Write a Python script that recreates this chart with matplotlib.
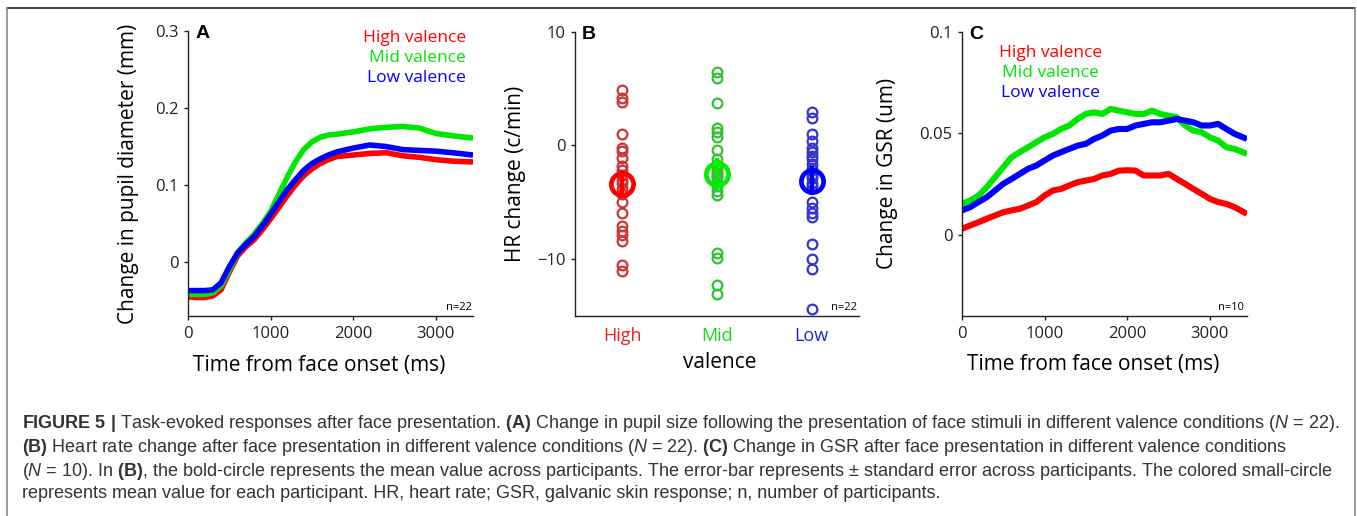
import numpy as np
import matplotlib
matplotlib.use("Agg")
import matplotlib.pyplot as plt
from matplotlib import font_manager
from matplotlib.lines import Line2D

installed = {f.name for f in font_manager.fontManager.ttflist}
CAP_FONT = "Liberation Sans Narrow" if "Liberation Sans Narrow" in installed else "Liberation Sans"
PLOT_FONT = "Open Sans"

plt.rcParams.update({
    "font.family": [PLOT_FONT, "DejaVu Sans"],
    "axes.unicode_minus": True,
    "mathtext.fontset": "custom",
    "mathtext.rm": CAP_FONT,
    "mathtext.it": CAP_FONT + ":italic",
    "mathtext.bf": CAP_FONT + ":bold",
    "axes.spines.top": False,
    "axes.spines.right": False,
    "axes.linewidth": 1.0,
    "axes.edgecolor": "#222222",
    "xtick.major.size": 3,
    "ytick.major.size": 3,
    "xtick.labelsize": 12,
    "ytick.labelsize": 12,
})

RED, GREEN, BLUE = "#ff0000", "#00e600", "#0000ff"
LEGEND_LABELS = ["High valence", "Mid valence", "Low valence"]

# ---- panel A: pupil diameter (mm) ----
t_pupil = [0, 100, 200, 300, 400, 500, 600, 700, 800, 900, 1000, 1100, 1200, 1300,
           1400, 1500, 1600, 1700, 1800, 2000, 2200, 2400, 2600, 2800, 3000, 3200, 3450]
pupil_high = [-0.045, -0.046, -0.046, -0.044, -0.036, -0.013, 0.008, 0.020, 0.029, 0.042,
              0.056, 0.071, 0.086, 0.100, 0.112, 0.121, 0.128, 0.133, 0.137, 0.139, 0.141,
              0.142, 0.138, 0.136, 0.133, 0.131, 0.130]
pupil_mid = [-0.042, -0.042, -0.042, -0.040, -0.031, -0.010, 0.012, 0.025, 0.036, 0.050,
             0.066, 0.088, 0.110, 0.130, 0.146, 0.156, 0.162, 0.165, 0.166, 0.169, 0.173,
             0.175, 0.176, 0.174, 0.167, 0.164, 0.161]
pupil_low = [-0.037, -0.037, -0.037, -0.036, -0.027, -0.006, 0.012, 0.023, 0.033, 0.047,
             0.062, 0.078, 0.094, 0.107, 0.119, 0.128, 0.134, 0.139, 0.143, 0.148, 0.152,
             0.150, 0.146, 0.145, 0.144, 0.142, 0.139]

# ---- panel B: HR change per participant (c/min) ----
hr_categories = ["High", "Mid", "Low"]
hr_high = [4.9, 4.2, 3.8, 1.0, -0.2, -0.5, -1.1, -1.8, -2.2, -2.6, -3.0, -3.3, -3.8, -4.3,
           -5.0, -5.9, -7.1, -7.5, -7.9, -8.4, -10.5, -11.0]
hr_mid = [6.5, 5.9, 3.7, 1.5, 1.2, 0.7, -0.4, -1.2, -1.7, -2.0, -2.2, -2.4, -2.6, -2.9,
          -3.2, -3.6, -4.0, -4.4, -9.5, -9.9, -12.3, -13.1]
hr_low = [2.9, 2.4, 1.0, 0.4, -0.2, -0.6, -0.9, -1.2, -1.6, -2.1, -2.6, -2.9, -3.3, -3.6,
          -5.0, -5.5, -5.9, -6.3, -8.7, -10.0, -10.9, -14.4]
hr_mean = [-3.4, -2.5, -3.1]
hr_sem = [1.2, 1.4, 1.25]

# ---- panel C: GSR (um) ----
t_gsr = [0, 100, 200, 300, 400, 500, 600, 700, 800, 900, 1000, 1100, 1200, 1300, 1400,
         1500, 1600, 1700, 1800, 1900, 2000, 2100, 2200, 2300, 2400, 2500, 2600, 2700,
         2800, 2900, 3000, 3100, 3200, 3300, 3450]
gsr_high = [0.0030, 0.0046, 0.0062, 0.0079, 0.0095, 0.0111, 0.0120, 0.0128, 0.0144, 0.0161,
            0.0193, 0.0218, 0.0226, 0.0243, 0.0259, 0.0267, 0.0275, 0.0292, 0.0300, 0.0316,
            0.0318, 0.0316, 0.0292, 0.0292, 0.0292, 0.0300, 0.0275, 0.0251, 0.0226, 0.0202,
            0.0177, 0.0161, 0.0152, 0.0136, 0.0103]
gsr_mid = [0.0152, 0.0169, 0.0193, 0.0234, 0.0284, 0.0333, 0.0382, 0.0407, 0.0431, 0.0456,
           0.0480, 0.0497, 0.0521, 0.0538, 0.0570, 0.0595, 0.0603, 0.0595, 0.0620, 0.0611,
           0.0603, 0.0595, 0.0595, 0.0611, 0.0595, 0.0587, 0.0579, 0.0538, 0.0513, 0.0505,
           0.0480, 0.0464, 0.0431, 0.0423, 0.0398]
gsr_low = [0.0120, 0.0136, 0.0161, 0.0185, 0.0218, 0.0251, 0.0275, 0.0300, 0.0325, 0.0341,
           0.0366, 0.0390, 0.0407, 0.0423, 0.0439, 0.0448, 0.0472, 0.0489, 0.0513, 0.0521,
           0.0521, 0.0538, 0.0546, 0.0554, 0.0554, 0.0562, 0.0570, 0.0562, 0.0554, 0.0538,
           0.0538, 0.0546, 0.0521, 0.0497, 0.0472]

caption_lines = [
    r"$\mathbf{FIGURE\ 5\ |}$ Task-evoked responses after face presentation. $\mathbf{(A)}$ Change in pupil size following the presentation of face stimuli in different valence conditions ($N$ = 22).",
    r"$\mathbf{(B)}$ Heart rate change after face presentation in different valence conditions ($N$ = 22). $\mathbf{(C)}$ Change in GSR after face presentation in different valence conditions",
    r"($N$ = 10). In $\mathbf{(B)}$, the bold-circle represents the mean value across participants. The error-bar represents ± standard error across participants. The colored small-circle",
    r"represents mean value for each participant. HR, heart rate; GSR, galvanic skin response; n, number of participants.",
]

W, H = 1357, 516
fig = plt.figure(figsize=(W / 100, H / 100), dpi=100)


def px_axes(x0, x1, ytop, ybot):
    return fig.add_axes([x0 / W, 1 - ybot / H, (x1 - x0) / W, (ybot - ytop) / H])


def style(ax):
    ax.tick_params(direction="out", width=1.0, pad=4, colors="#222222")


# frame around the figure
fig.add_artist(Line2D([7 / W, 1355 / W], [1 - 8 / H, 1 - 8 / H], color="#222222", lw=1.2))
fig.add_artist(Line2D([7 / W, 7 / W], [0, 1 - 8 / H], color="#8a8a8a", lw=1.2))
fig.add_artist(Line2D([1355 / W, 1355 / W], [0, 1 - 8 / H], color="#8a8a8a", lw=1.2))

# ================= A =================
axA = px_axes(188, 473, 31, 316)
for y, c in zip([pupil_high, pupil_mid, pupil_low], [RED, GREEN, BLUE]):
    axA.plot(t_pupil, y, color=c, lw=4.0, solid_capstyle="butt")
axA.set_xlim(0, 3450)
axA.set_ylim(-0.07, 0.3)
axA.set_xticks([0, 1000, 2000, 3000])
axA.set_yticks([0, 0.1, 0.2, 0.3])
axA.set_yticklabels(["0", "0.1", "0.2", "0.3"])
style(axA)
axA.set_ylabel("Change in pupil diameter (mm)", fontsize=15)
axA.yaxis.set_label_coords(-0.21, 0.5)
axA.set_xlabel("Time from face onset (ms)", fontsize=15)
axA.xaxis.set_label_coords(0.46, -0.172)
axA.xaxis.label.set_va("center")
axA.yaxis.label.set_va("center")
for i, (lab, c) in enumerate(zip(LEGEND_LABELS, [RED, GREEN, BLUE])):
    axA.text(0.975, 0.975 - 0.07 * i, lab, color=c, fontsize=12.5, ha="right", va="center",
             transform=axA.transAxes)
axA.text(0.025, 0.99, "A", transform=axA.transAxes, fontsize=14, fontweight="bold",
         family="Liberation Sans", va="center", ha="left")
axA.text(0.995, 0.03, "n=22", transform=axA.transAxes, fontsize=8, ha="right", va="center")

# ================= B =================
axB = px_axes(575, 859, 31.7, 316)
pt_colors = ["#d03535", "#35c035", "#3535cc"]
mean_colors = [RED, "#00ee00", BLUE]
for i, (vals, pc, mc) in enumerate(zip([hr_high, hr_mid, hr_low], pt_colors, mean_colors)):
    x = i + 1
    axB.plot([x] * len(vals), vals, "o", ms=7, mfc="none", mec=pc, mew=1.6, zorder=2)
    axB.errorbar([x], [hr_mean[i]], yerr=[hr_sem[i]], fmt="o", ms=16, mfc="none", mec=mc,
                 mew=3.4, ecolor=mc, elinewidth=3.2, capsize=0, zorder=3)
axB.set_xlim(0.5, 3.5)
axB.set_ylim(-15, 10)
axB.set_yticks([-10, 0, 10])
axB.set_xticks([1, 2, 3])
style(axB)
axB.tick_params(axis="x", length=0, pad=8)
axB.set_xticklabels(hr_categories, fontsize=13)
for lab, c in zip(axB.get_xticklabels(), ["#ee2222", "#11dd11", "#2222dd"]):
    lab.set_color(c)
axB.set_ylabel("HR change (c/min)", fontsize=15)
axB.yaxis.set_label_coords(-0.211, 0.5)
axB.yaxis.label.set_va("center")
axB.set_xlabel("valence", fontsize=15)
axB.xaxis.set_label_coords(0.51, -0.165)
axB.xaxis.label.set_va("center")
axB.text(0.025, 0.99, "B", transform=axB.transAxes, fontsize=14, fontweight="bold",
         family="Liberation Sans", va="center", ha="left")
axB.text(0.993, 0.03, "n=22", transform=axB.transAxes, fontsize=8, ha="right", va="center")

# ================= C =================
axC = px_axes(962, 1247, 31.7, 316)
for y, c in zip([gsr_high, gsr_mid, gsr_low], [RED, GREEN, BLUE]):
    axC.plot(t_gsr, y, color=c, lw=4.4, solid_capstyle="butt")
axC.set_xlim(0, 3450)
axC.set_ylim(-0.04, 0.1)
axC.set_xticks([0, 1000, 2000, 3000])
axC.set_yticks([0, 0.05, 0.1])
axC.set_yticklabels(["0", "0.05", "0.1"])
style(axC)
axC.set_ylabel("Change in GSR (um)", fontsize=15)
axC.yaxis.set_label_coords(-0.26, 0.5)
axC.yaxis.label.set_va("center")
axC.set_xlabel("Time from face onset (ms)", fontsize=15)
axC.xaxis.set_label_coords(0.46, -0.172)
axC.xaxis.label.set_va("center")
for i, (lab, c) in enumerate(zip(LEGEND_LABELS, [RED, GREEN, BLUE])):
    axC.text(0.31, 0.925 - 0.07 * i, lab, color=c, fontsize=12.5, ha="center", va="center",
             transform=axC.transAxes)
axC.text(0.025, 0.99, "C", transform=axC.transAxes, fontsize=14, fontweight="bold",
         family="Liberation Sans", va="center", ha="left")
axC.text(0.99, 0.03, "n=10", transform=axC.transAxes, fontsize=8, ha="right", va="center")

# ================= caption =================
cap_y = [423, 447, 471, 494]
cap_texts = []
for line, yc in zip(caption_lines, cap_y):
    cap_texts.append(fig.text(22 / W, 1 - yc / H, line, fontsize=12, family=CAP_FONT,
                              color="#333333", ha="left", va="center"))
fig.canvas.draw()
w = cap_texts[0].get_window_extent().width
scale = 1316 / w
for t in cap_texts:
    t.set_fontsize(12 * scale)

fig.savefig("out.png", dpi=100)
